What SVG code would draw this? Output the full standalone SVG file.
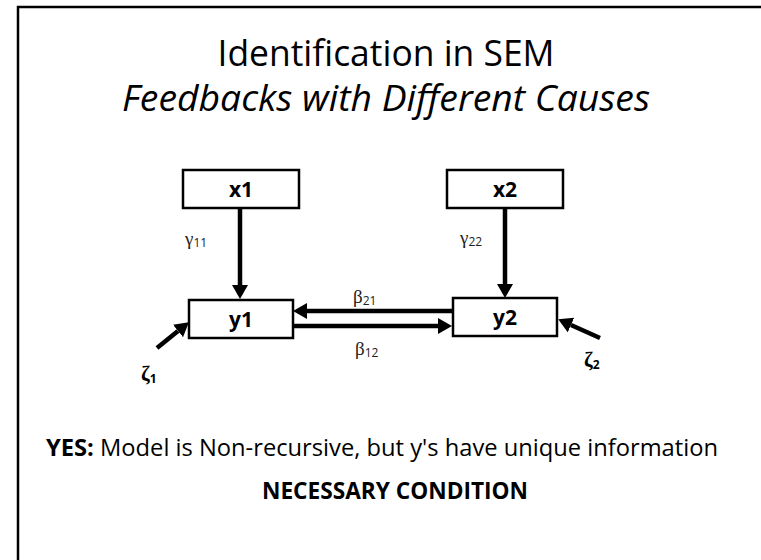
<svg xmlns="http://www.w3.org/2000/svg" width="761" height="560" viewBox="0 0 761 560">
  <style>
    .frame { fill: none; stroke: #000; stroke-width: 2.5; }
    .box { fill: #fff; stroke: #000; stroke-width: 2.5; }
    .title { font-family: "Open Sans", "Liberation Sans", sans-serif; font-size: 37px; fill: #000; }
    .sub { font-style: italic; }
    .node { font-family: "Open Sans", "Liberation Sans", sans-serif; font-size: 21px; font-weight: bold; text-anchor: middle; fill: #000; }
    .greek { font-family: "Liberation Serif", "DejaVu Serif", serif; font-size: 19px; fill: #222; }
    .idx { font-family: "Open Sans", "Liberation Sans", sans-serif; font-size: 12px; fill: #222; }
    .zeta { font-family: "Liberation Serif", "DejaVu Serif", serif; font-size: 21px; font-weight: bold; fill: #000; }
    .zidx { font-family: "Open Sans", "Liberation Sans", sans-serif; font-size: 12px; font-weight: bold; fill: #000; }
    .body { font-family: "Open Sans", "Liberation Sans", sans-serif; font-size: 24px; fill: #000; }
    .arrow { stroke: #000; stroke-width: 4.5; fill: none; marker-end: url(#head); }
  </style>
  <defs>
    <marker id="head" viewBox="0 0 14 16" refX="0" refY="8" markerWidth="14" markerHeight="16" markerUnits="userSpaceOnUse" orient="auto">
      <path d="M0,0 L14,8 L0,16 z" fill="#000"/>
    </marker>
  </defs>

  <!-- slide frame, running off the right and bottom edges -->
  <rect class="frame" x="18" y="7" width="800" height="620"/>

  <text class="title" x="386" y="66" text-anchor="middle" textLength="337" lengthAdjust="spacingAndGlyphs">Identification in SEM</text>
  <text class="title sub" x="386" y="111" text-anchor="middle" textLength="528" lengthAdjust="spacingAndGlyphs">Feedbacks with Different Causes</text>

  <g id="connectors">
    <line class="arrow" x1="240" y1="209" x2="240" y2="285"/>
    <line class="arrow" x1="505" y1="209" x2="505" y2="284"/>
    <line class="arrow" x1="453" y1="311" x2="307" y2="311"/>
    <line class="arrow" x1="293" y1="326" x2="438" y2="326"/>
    <line class="arrow" x1="157" y1="348" x2="178" y2="331"/>
    <line class="arrow" x1="600" y1="338" x2="571" y2="325"/>
  </g>

  <g id="x1">
    <rect class="box" x="183" y="170" width="116" height="38"/>
    <text class="node" x="241" y="197">x1</text>
  </g>
  <g id="x2">
    <rect class="box" x="447" y="170" width="116" height="38"/>
    <text class="node" x="505" y="197">x2</text>
  </g>
  <g id="y1">
    <rect class="box" x="189" y="300" width="104" height="38"/>
    <text class="node" x="241" y="327">y1</text>
  </g>
  <g id="y2">
    <rect class="box" x="453" y="298" width="104" height="38"/>
    <text class="node" x="505" y="325">y2</text>
  </g>

  <g id="labels">
    <text class="greek" x="185" y="245">γ<tspan class="idx" dy="2">11</tspan></text>
    <text class="greek" x="460" y="244">γ<tspan class="idx" dy="2">22</tspan></text>
    <text class="greek" x="353" y="303">β<tspan class="idx" dy="2">21</tspan></text>
    <text class="greek" x="355" y="355">β<tspan class="idx" dy="2">12</tspan></text>
  </g>

  <g id="zeta1">
    <text class="zeta" x="141" y="381">ζ<tspan class="zidx" dy="2">1</tspan></text>
  </g>
  <g id="zeta2">
    <text class="zeta" x="584" y="367">ζ<tspan class="zidx" dy="2">2</tspan></text>
  </g>

  <text class="body" x="46" y="456" textLength="672" lengthAdjust="spacingAndGlyphs"><tspan font-weight="bold">YES:</tspan> Model is Non-recursive, but y's have unique information</text>
  <text class="body" x="395" y="499" text-anchor="middle" font-weight="bold" textLength="266" lengthAdjust="spacingAndGlyphs">NECESSARY CONDITION</text>
</svg>
